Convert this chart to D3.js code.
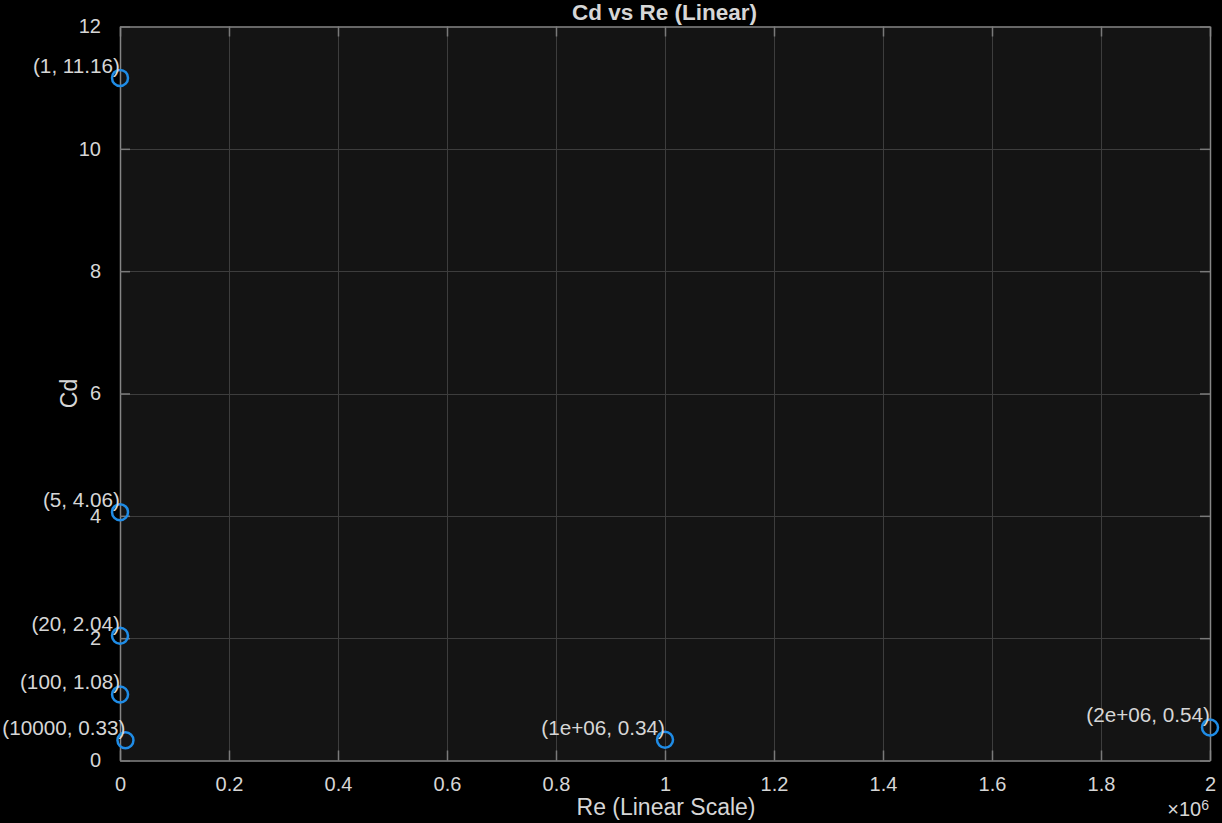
<!DOCTYPE html>
<html><head><meta charset="utf-8">
<script src="https://cdn.jsdelivr.net/npm/d3@7"></script>
<style>
html,body{margin:0;padding:0;background:#000;}
text{font-family:"Liberation Sans",Arial,Helvetica,sans-serif;}
</style></head>
<body>
<svg id="chart" width="1222" height="823"></svg>
<script>
const reValues = [1, 5, 20, 100, 10000, 1000000, 2000000];
const cdValues = [11.16, 4.06, 2.04, 1.08, 0.33, 0.34, 0.54];
const pointLabels = ["(1, 11.16)", "(5, 4.06)", "(20, 2.04)", "(100, 1.08)", "(10000, 0.33)", "(1e+06, 0.34)", "(2e+06, 0.54)"];
const xTicks = [0, 0.2e6, 0.4e6, 0.6e6, 0.8e6, 1.0e6, 1.2e6, 1.4e6, 1.6e6, 1.8e6, 2.0e6];
const xTickLabels = ["0", "0.2", "0.4", "0.6", "0.8", "1", "1.2", "1.4", "1.6", "1.8", "2"];
const yTicks = [0, 2, 4, 6, 8, 10, 12];
const titleText = "Cd vs Re (Linear)";
const xLabelText = "Re (Linear Scale)";
const yLabelText = "Cd";

const L = 120, R = 1210, T = 26.5, B = 760.5;
const svg = d3.select("#chart");
const x = d3.scaleLinear().domain([0, 2e6]).range([L, R]);
const y = d3.scaleLinear().domain([0, 12]).range([B, T]);
const textCol = "#d6d6d6", axisCol = "#858585", gridCol = "#3d3d3d", tickCol = "#7a7a7a";

svg.append("rect").attr("x", L).attr("y", T).attr("width", R - L).attr("height", B - T).attr("fill", "#141414");

// grid
const g = svg.append("g");
g.selectAll(".gx").data(xTicks.slice(1, -1)).join("line")
  .attr("x1", d => Math.round(x(d)) + 0.5).attr("x2", d => Math.round(x(d)) + 0.5)
  .attr("y1", T).attr("y2", B).attr("stroke", gridCol).attr("stroke-width", 1);
g.selectAll(".gy").data(yTicks.slice(1, -1)).join("line")
  .attr("y1", d => Math.round(y(d)) + 0.5).attr("y2", d => Math.round(y(d)) + 0.5)
  .attr("x1", L).attr("x2", R).attr("stroke", gridCol).attr("stroke-width", 1);

// axes with inward ticks
const xAxisB = d3.axisBottom(x).tickValues(xTicks).tickFormat((d, i) => xTickLabels[i]).tickSizeInner(-10).tickSizeOuter(0).tickPadding(16);
const xAxisT = d3.axisTop(x).tickValues(xTicks).tickFormat("").tickSizeInner(-10).tickSizeOuter(0);
const yAxisL = d3.axisLeft(y).tickValues(yTicks).tickFormat(d3.format("d")).tickSizeInner(-10).tickSizeOuter(0).tickPadding(19);
const yAxisR = d3.axisRight(y).tickValues(yTicks).tickFormat("").tickSizeInner(-10).tickSizeOuter(0);

function style(sel) {
  sel.select(".domain").attr("stroke", axisCol).attr("stroke-width", 1.5);
  sel.selectAll(".tick line").attr("stroke", tickCol).attr("stroke-width", 1.5);
  sel.selectAll(".tick text").attr("fill", textCol).style("font-size", "20px").style("font-family", "'Liberation Sans',Arial,sans-serif");
}
svg.append("g").attr("transform", `translate(0,${B})`).call(xAxisB).call(style);
svg.append("g").attr("transform", `translate(0,${T})`).call(xAxisT).call(style);
svg.append("g").attr("transform", `translate(${L},0)`).call(yAxisL).call(style);
svg.append("g").attr("transform", `translate(${R},0)`).call(yAxisR).call(style);

// exponent
const ex = svg.append("text").attr("x", 1209).attr("y", 816).attr("text-anchor", "end").attr("fill", textCol).style("font-size", "20px");
ex.append("tspan").text("×10");
ex.append("tspan").attr("dy", -6).style("font-size", "14px").text("6");

// title and labels
svg.append("text").attr("x", (L + R) / 2 - 0.5).attr("y", 20).attr("text-anchor", "middle").attr("fill", textCol)
  .style("font-size", "22.5px").style("font-weight", "bold").text(titleText);
svg.append("text").attr("x", (L + R) / 2 + 1).attr("y", 815).attr("text-anchor", "middle").attr("fill", textCol)
  .style("font-size", "23px").text(xLabelText);
svg.append("text").attr("transform", `translate(77,${(T + B) / 2}) rotate(-90)`).attr("text-anchor", "middle").attr("fill", textCol)
  .style("font-size", "23px").text(yLabelText);

// points
const data = reValues.map((r, i) => ({ r, c: cdValues[i], label: pointLabels[i] }));
svg.append("g").selectAll("circle").data(data).join("circle")
  .attr("cx", d => x(d.r)).attr("cy", d => y(d.c)).attr("r", 8)
  .attr("fill", "none").attr("stroke", "#1f8ce6").attr("stroke-width", 2.5);
svg.append("g").selectAll("text").data(data).join("text")
  .attr("x", d => x(d.r)).attr("y", d => y(d.c) - 5).attr("text-anchor", "end")
  .attr("fill", textCol).style("font-size", "20.7px").text(d => d.label);
</script>
</body></html>
